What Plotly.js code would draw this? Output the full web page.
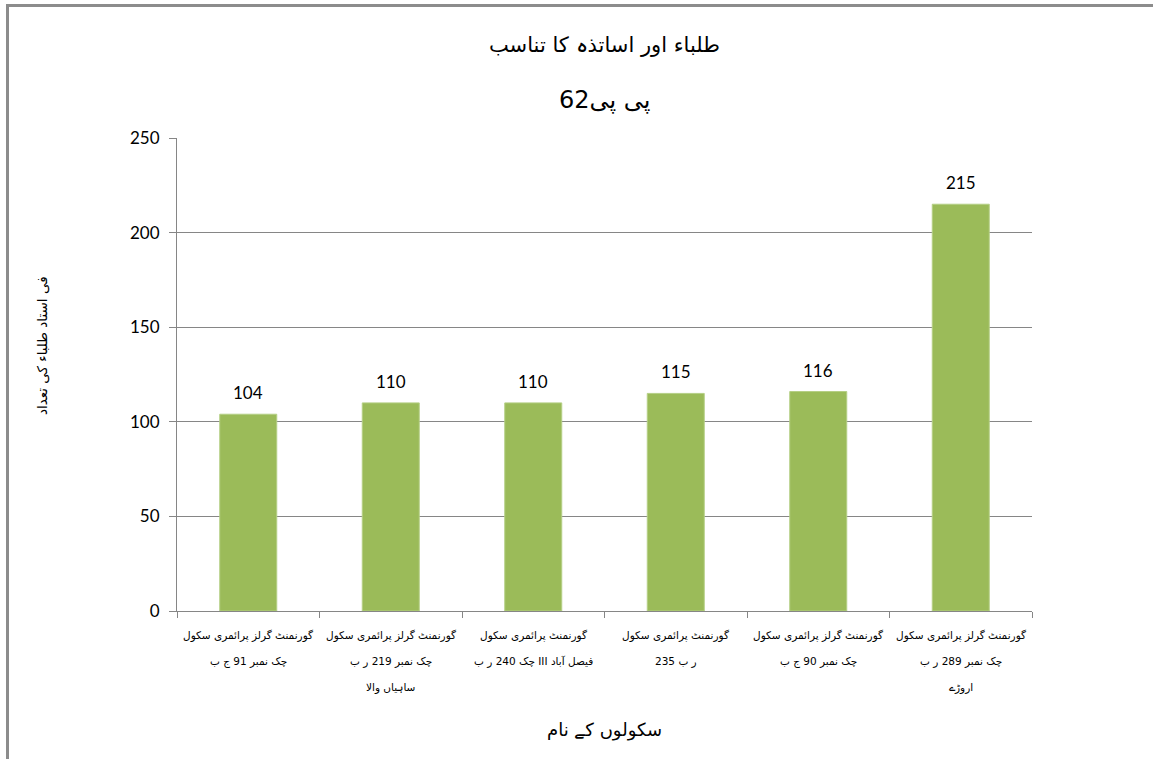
<!DOCTYPE html>
<html>
<head>
<meta charset="utf-8">
<script src="https://cdn.plot.ly/plotly-3.0.1.min.js"></script>
<style>
  html, body { margin: 0; padding: 0; background: #fff; }
  #wrap { position: relative; width: 1153px; height: 759px; overflow: hidden; }
  #chart { position: absolute; left: 0; top: 0; width: 1153px; height: 759px; }
  #frame { position: absolute; left: 6px; top: 4px; width: 1200px; height: 800px;
           border-left: 3px solid #8c8c8c; border-top: 3px solid #8c8c8c; pointer-events: none; }
</style>
</head>
<body>
<div id="wrap">
  <div id="chart"></div>
  <div id="frame"></div>
</div>
<script>
const categories = [
  "گورنمنٹ گرلز پرائمری سکول<br>چک نمبر 91 ج ب",
  "گورنمنٹ گرلز پرائمری سکول<br>چک نمبر 219 ر ب<br>ساہیاں والا",
  "گورنمنٹ پرائمری سکول<br>چک 240 ر ب III فیصل آباد",
  "گورنمنٹ پرائمری سکول<br>235 ر ب",
  "گورنمنٹ گرلز پرائمری سکول<br>چک نمبر 90 ج ب",
  "گورنمنٹ گرلز پرائمری سکول<br>چک نمبر 289 ر ب<br>اروڑے"
];
const ratios = [104, 110, 110, 115, 116, 215];
const yTicks = [0, 50, 100, 150, 200, 250];

const titleLine1 = "طلباء اور اساتذہ کا تناسب";
const titleLine2 = "پی پی62";
const xTitle = "سکولوں کے نام";
const yTitle = "فی استاد طلباء کی تعداد";

const urduFont = "'DejaVu Sans', sans-serif";
const numFont = "Lato, 'Liberation Sans', sans-serif";

const trace = {
  type: "bar",
  x: categories,
  y: ratios,
  marker: { color: "#9BBB59", line: { color: "#b5cf85", width: 1 } },
  hoverinfo: "none"
};

const valueLabels = categories.map((c, i) => ({
  x: c, y: ratios[i], xref: "x", yref: "y",
  text: String(ratios[i]), showarrow: false,
  yanchor: "bottom", yshift: 9,
  font: { family: numFont, size: 17, color: "#000" }
}));

// category labels, one annotation per line so line spacing matches the reference
const catLabels = [];
categories.forEach((c) => {
  c.split("<br>").forEach((line, j) => {
    catLabels.push({
      x: c, y: 0, xref: "x", yref: "y",
      text: line, showarrow: false,
      yanchor: "middle", yshift: -(24 + j * 26),
      font: { family: urduFont, size: 10.5, color: "#000" }
    });
  });
});

const titleAnns = [
  { text: titleLine1, xref: "paper", yref: "paper", x: 0.5, y: 1.197, xanchor: "center", yanchor: "middle",
    showarrow: false, font: { family: urduFont, size: 21, color: "#000" } },
  { text: titleLine2, xref: "paper", yref: "paper", x: 0.5, y: 1.08, xanchor: "center", yanchor: "middle",
    showarrow: false, font: { family: urduFont, size: 24, color: "#000" } },
  { text: yTitle, xref: "paper", yref: "paper", x: -0.158, y: 0.562, xanchor: "center", yanchor: "middle",
    textangle: -90, showarrow: false, font: { family: urduFont, size: 13.5, color: "#000" } }
];

const layout = {
  width: 1153, height: 759,
  margin: { l: 177, r: 121, t: 138, b: 148 },
  paper_bgcolor: "#fff", plot_bgcolor: "#fff",
  showlegend: false,
  bargap: 0.6,
  font: { family: urduFont, color: "#000" },
  annotations: titleAnns.concat(valueLabels, catLabels),
  xaxis: {
    type: "category",
    showline: true, linecolor: "#868686", linewidth: 1,
    ticks: "outside", tickson: "boundaries", ticklen: 6, tickcolor: "#868686",
    showticklabels: false,
    title: { text: xTitle, font: { size: 18, color: "#000" }, standoff: 112 },
    automargin: false
  },
  yaxis: {
    range: [0, 250],
    tickvals: yTicks,
    showline: true, linecolor: "#868686", linewidth: 1,
    ticks: "outside", ticklen: 7, tickcolor: "#868686",
    gridcolor: "#868686", gridwidth: 1,
    zeroline: false,
    tickfont: { size: 17, color: "#000", family: numFont },
    ticklabelstandoff: 6,
    automargin: false
  }
};

Plotly.newPlot("chart", [trace], layout, { displayModeBar: false, staticPlot: true });
</script>
</body>
</html>
